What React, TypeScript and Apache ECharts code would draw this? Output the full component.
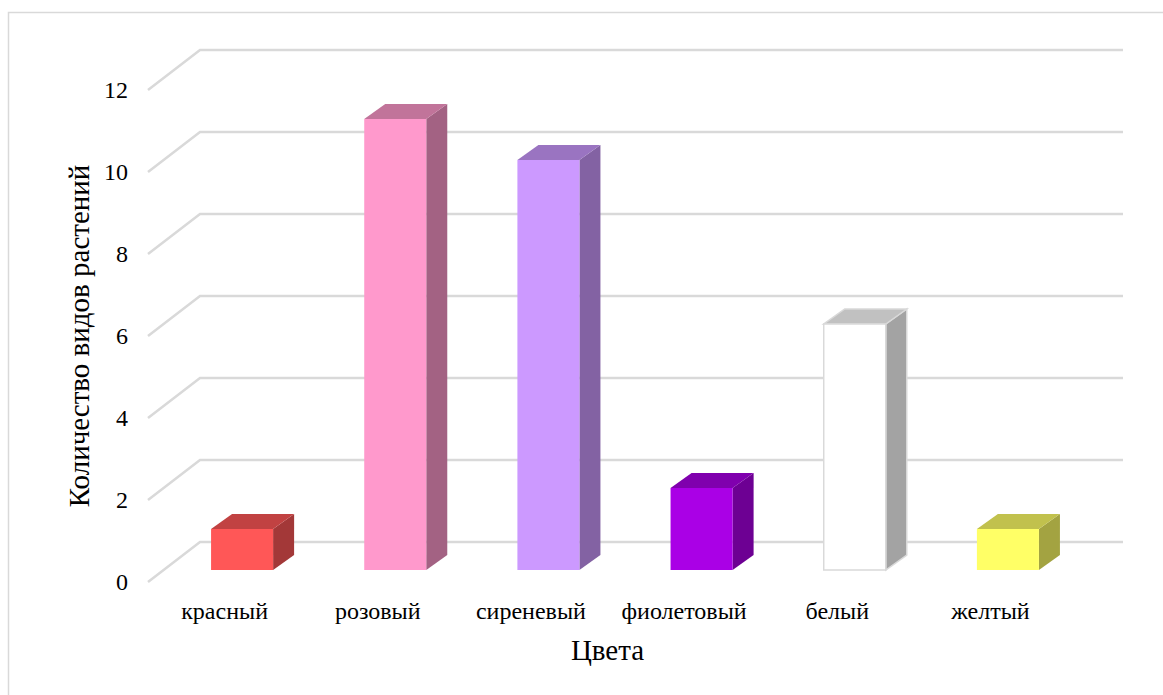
import React, { useEffect, useRef } from "react";
import * as echarts from "echarts";

// Number of plant species per flower colour
const categories = ["красный", "розовый", "сиреневый", "фиолетовый", "белый", "желтый"];
const speciesCount = [1, 11, 10, 2, 6, 1];
const barColors = ["#FF5757", "#FF99CC", "#CC99FF", "#AA00E6", "#FFFFFF", "#FFFF66"];
const yTicks = [0, 2, 4, 6, 8, 10, 12];

const FONT = "'Liberation Serif', 'Times New Roman', serif";
const GRID_COLOR = "#D9D9D9";

// Perspective of the pseudo-3D floor: full depth of the plot box and the bar block
const DEPTH_X = 52;
const DEPTH_Y = -40;
const BAR_SHIFT_X = 17.5;
const BAR_SHIFT_Y = -12;
const BAR_DEPTH_X = 21;
const BAR_DEPTH_Y = -15;

function shade(hex: string, k: number): string {
  const n = parseInt(hex.slice(1), 16);
  const r = Math.round(((n >> 16) & 255) * k);
  const g = Math.round(((n >> 8) & 255) * k);
  const b = Math.round((n & 255) * k);
  return `rgb(${r},${g},${b})`;
}

export default function App() {
  const ref = useRef<HTMLDivElement>(null);

  useEffect(() => {
    if (!ref.current) return;
    const chart = echarts.init(ref.current, null, { renderer: "svg" });

    const option: any = {
      animation: false,
      backgroundColor: "#FFFFFF",
      textStyle: { fontFamily: FONT },
      graphic: [
        {
          type: "rect",
          z: -10,
          silent: true,
          shape: { x: 8.5, y: 12.5, width: 1170, height: 720 },
          style: { fill: "transparent", stroke: GRID_COLOR, lineWidth: 1.5 },
        },
      ],
      grid: { left: 148, top: 90, width: 919, height: 492 },
      xAxis: {
        type: "category",
        data: categories,
        axisLine: { show: false },
        axisTick: { show: false },
        axisLabel: {
          color: "#000",
          fontSize: 24,
          fontFamily: FONT,
          margin: 17,
          interval: 0,
          hideOverlap: false,
        },
        name: "Цвета",
        nameLocation: "middle",
        nameGap: 53,
        nameTextStyle: { color: "#000", fontSize: 29, fontFamily: FONT },
      },
      yAxis: {
        type: "value",
        min: 0,
        max: 12,
        interval: 2,
        axisLine: { show: false },
        axisTick: { show: false },
        splitLine: { show: false },
        axisLabel: { color: "#000", fontSize: 24, fontFamily: FONT, margin: 20 },
        name: "Количество видов растений",
        nameLocation: "middle",
        nameGap: 54,
        nameTextStyle: { color: "#000", fontSize: 29, fontFamily: FONT },
      },
      series: [
        {
          // floor diagonals and back-wall gridlines
          type: "custom",
          silent: true,
          z: 1,
          data: yTicks.map((v) => [0, v]),
          renderItem: (params: any, api: any) => {
            const p = api.coord([0, api.value(1)]);
            const band = api.size([1, 0])[0];
            const xl = p[0] - band / 2;
            const y = p[1];
            const span = band * categories.length + 4;
            return {
              type: "polyline",
              shape: {
                points: [
                  [xl, y],
                  [xl + DEPTH_X, y + DEPTH_Y],
                  [xl + DEPTH_X + span, y + DEPTH_Y],
                ],
              },
              style: { fill: null, stroke: GRID_COLOR, lineWidth: 2.5 },
            };
          },
        },
        {
          // 3D bars: front face, top face and right side face
          type: "custom",
          silent: true,
          z: 2,
          data: speciesCount.map((v, i) => [i, v]),
          renderItem: (params: any, api: any) => {
            const i = api.value(0);
            const v = api.value(1);
            const base = api.coord([i, 0]);
            const top = api.coord([i, v]);
            const band = api.size([1, 0])[0];
            const w = band * 0.405;
            const x = base[0] - w / 2 + BAR_SHIFT_X;
            const yb = base[1] + BAR_SHIFT_Y;
            const yt = top[1] + BAR_SHIFT_Y;
            const color = barColors[i];
            const isWhite = color.toUpperCase() === "#FFFFFF";
            const outline = isWhite ? GRID_COLOR : null;
            const lw = isWhite ? 1.5 : 0;
            return {
              type: "group",
              children: [
                {
                  type: "polygon",
                  shape: {
                    points: [
                      [x + w, yt],
                      [x + w + BAR_DEPTH_X, yt + BAR_DEPTH_Y],
                      [x + w + BAR_DEPTH_X, yb + BAR_DEPTH_Y],
                      [x + w, yb],
                    ],
                  },
                  style: { fill: shade(color, 0.64), stroke: outline, lineWidth: lw },
                },
                {
                  type: "polygon",
                  shape: {
                    points: [
                      [x, yt],
                      [x + w, yt],
                      [x + w + BAR_DEPTH_X, yt + BAR_DEPTH_Y],
                      [x + BAR_DEPTH_X, yt + BAR_DEPTH_Y],
                    ],
                  },
                  style: { fill: shade(color, 0.755), stroke: outline, lineWidth: lw },
                },
                {
                  type: "rect",
                  shape: { x, y: yt, width: w, height: yb - yt },
                  style: { fill: color, stroke: outline, lineWidth: lw },
                },
              ],
            };
          },
        },
      ],
    };

    chart.setOption(option);
    return () => chart.dispose();
  }, []);

  return (
    <div
      ref={ref}
      style={{ position: "absolute", left: 0, top: 0, width: 1163, height: 695 }}
    />
  );
}
